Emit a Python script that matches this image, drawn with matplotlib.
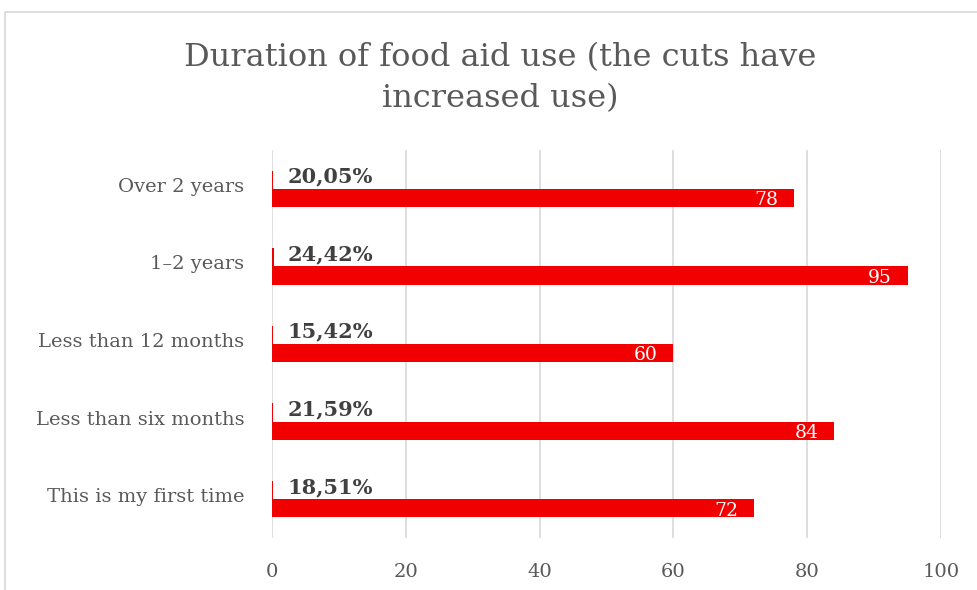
import matplotlib
matplotlib.use("Agg")
import matplotlib.pyplot as plt
import matplotlib.transforms as mtransforms
from matplotlib.patches import Rectangle
import numpy as np

# survey answers, top row first
categories = ["Over 2 years", "1\u20132 years", "Less than 12 months",
              "Less than six months", "This is my first time"]
counts = [78, 95, 60, 84, 72]
shares = [0.2005, 0.2442, 0.1542, 0.2159, 0.1851]
share_labels = ["20,05%", "24,42%", "15,42%", "21,59%", "18,51%"]

red = "#f00000"
grey = "#595959"
serif = ["DejaVu Serif"]
plt.rcParams["font.family"] = serif

fig = plt.figure(figsize=(9.78, 5.90), dpi=100)
fig.patches.append(Rectangle((5 / 978, -0.01), 1.0, 1 - 12 / 590 + 0.01,
                             transform=fig.transFigure, fill=False,
                             edgecolor="#d9d9d9", linewidth=1.2))

ax = fig.add_axes([272 / 978, 1 - 538 / 590, (941 - 272) / 978, (538 - 150) / 590])

y = np.arange(len(categories))
h = 0.235
ax.barh(y - h / 2, shares, height=h, color=red)
ax.barh(y + h / 2, counts, height=h, color=red)

for yi, s, lab in zip(y, shares, share_labels):
    ax.text(s + 2.1, yi - h / 2 - 0.04, lab, ha="left", va="center",
            fontsize=15, fontweight="bold", color="#404040")
for yi, c in zip(y, counts):
    ax.text(c - 2.3, yi + h / 2 + 0.03, str(c), ha="right", va="center",
            fontsize=13.5, color="white")

ax.set_xlim(0, 100)
ax.set_ylim(len(categories) - 0.5, -0.5)
ax.set_xticks(np.arange(0, 101, 20))
ax.set_yticks(y)
ax.set_yticklabels(categories)
ax.tick_params(axis="both", length=0, colors=grey, labelsize=14)
ax.tick_params(axis="x", pad=18, labelsize=14)
ax.tick_params(axis="y", pad=20)
shift = mtransforms.ScaledTranslation(0, 4 / 100, fig.dpi_scale_trans)
for t in ax.get_yticklabels():
    t.set_transform(t.get_transform() + shift)
for sp in ax.spines.values():
    sp.set_visible(False)
ax.grid(axis="x", color="#d9d9d9", linewidth=1.2)
ax.set_axisbelow(True)

fig.text(500 / 978, 1 - 78 / 590, "Duration of food aid use (the cuts have\nincreased use)",
         ha="center", va="center", fontsize=23, color=grey, linespacing=1.45)

fig.savefig("out.png", dpi=100)
